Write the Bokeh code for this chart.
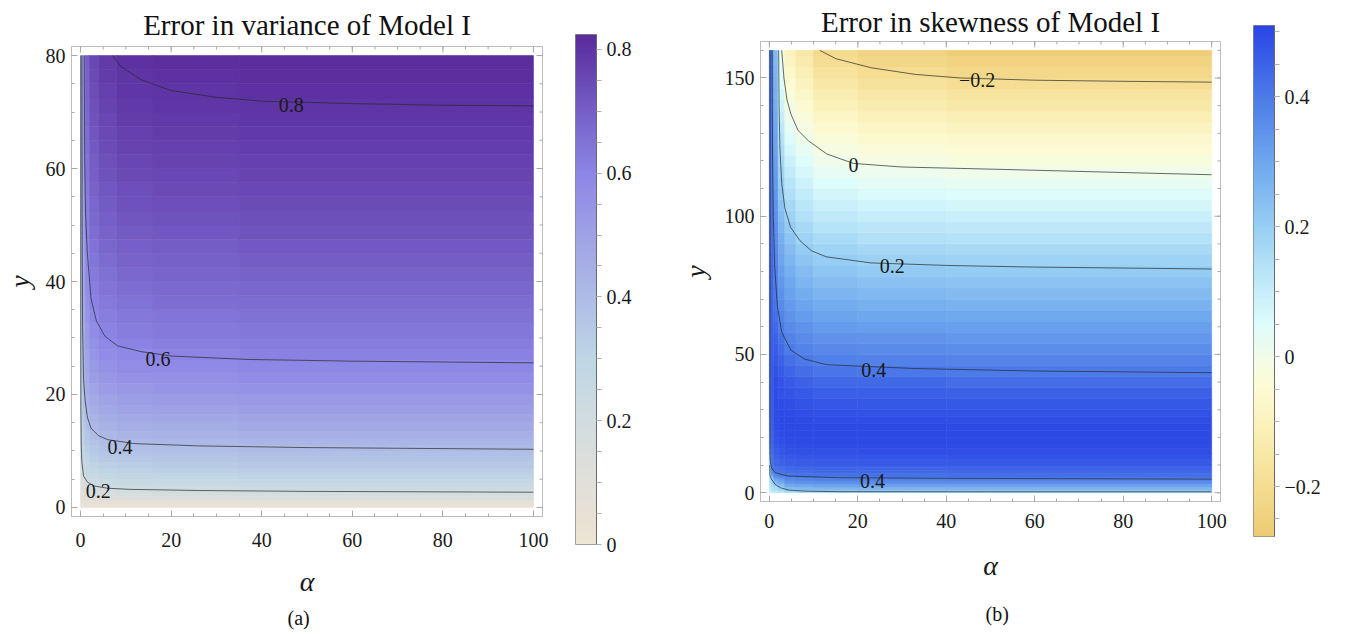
import numpy as np
from bokeh.plotting import figure
from bokeh.layouts import row
from bokeh.models import (ColumnDataSource, FixedTicker, LinearColorMapper, Range1d,
                          CustomJSTickFormatter, Title)
from bokeh.transform import linear_cmap
from bokeh.embed import file_html
from bokeh.resources import INLINE
from bokeh.core.properties import value

SERIF = "Liberation Serif, serif"

# ======================= panel (a): error in variance =======================
var_title = "Error in variance of Model I"
var_alpha_edges = [0, 0.4, 1, 2, 4, 8, 16, 35, 100]
var_y_edges = [0, 0.5, 1, 1.5, 2, 2.5, 3, 3.5, 4, 5, 6, 7, 8, 9, 10, 11, 12, 13.5, 15, 16.5,
               18, 20, 22, 24, 26, 28, 30, 32.5, 35, 37.5, 40, 42.5, 45, 47.5, 50, 52.5, 55,
               57.5, 60, 62.5, 65, 67.5, 70, 72.5, 75, 77.5, 80]
# rows bottom -> top; columns follow var_alpha_edges
var_z = [
    [0.014, 0.020, 0.023, 0.025, 0.028, 0.030, 0.031, 0.033],
    [0.031, 0.045, 0.052, 0.058, 0.064, 0.068, 0.071, 0.076],
    [0.045, 0.066, 0.077, 0.085, 0.094, 0.100, 0.104, 0.111],
    [0.059, 0.085, 0.099, 0.110, 0.122, 0.129, 0.133, 0.142],
    [0.071, 0.102, 0.119, 0.132, 0.147, 0.155, 0.161, 0.172],
    [0.082, 0.119, 0.138, 0.154, 0.171, 0.181, 0.187, 0.200],
    [0.093, 0.135, 0.157, 0.174, 0.193, 0.205, 0.212, 0.225],
    [0.104, 0.150, 0.174, 0.194, 0.216, 0.227, 0.235, 0.247],
    [0.119, 0.172, 0.200, 0.223, 0.244, 0.256, 0.263, 0.274],
    [0.138, 0.200, 0.232, 0.256, 0.276, 0.287, 0.294, 0.305],
    [0.157, 0.224, 0.258, 0.283, 0.303, 0.313, 0.320, 0.330],
    [0.174, 0.245, 0.281, 0.306, 0.325, 0.336, 0.342, 0.351],
    [0.192, 0.263, 0.300, 0.326, 0.345, 0.355, 0.361, 0.370],
    [0.206, 0.279, 0.318, 0.344, 0.363, 0.373, 0.379, 0.387],
    [0.217, 0.293, 0.333, 0.360, 0.379, 0.388, 0.394, 0.403],
    [0.226, 0.306, 0.348, 0.375, 0.393, 0.404, 0.412, 0.423],
    [0.237, 0.321, 0.364, 0.392, 0.413, 0.427, 0.435, 0.446],
    [0.249, 0.337, 0.382, 0.413, 0.437, 0.451, 0.460, 0.470],
    [0.260, 0.352, 0.397, 0.434, 0.458, 0.473, 0.482, 0.492],
    [0.270, 0.365, 0.414, 0.453, 0.478, 0.493, 0.502, 0.512],
    [0.280, 0.379, 0.432, 0.473, 0.498, 0.514, 0.524, 0.534],
    [0.291, 0.393, 0.452, 0.494, 0.520, 0.537, 0.546, 0.556],
    [0.301, 0.405, 0.469, 0.513, 0.539, 0.557, 0.566, 0.576],
    [0.310, 0.415, 0.484, 0.530, 0.557, 0.575, 0.585, 0.594],
    [0.318, 0.424, 0.499, 0.546, 0.574, 0.592, 0.602, 0.610],
    [0.326, 0.433, 0.512, 0.561, 0.589, 0.607, 0.616, 0.624],
    [0.334, 0.441, 0.527, 0.576, 0.605, 0.622, 0.631, 0.639],
    [0.342, 0.450, 0.541, 0.593, 0.620, 0.637, 0.646, 0.654],
    [0.350, 0.459, 0.555, 0.607, 0.634, 0.652, 0.660, 0.667],
    [0.357, 0.467, 0.567, 0.619, 0.647, 0.665, 0.673, 0.681],
    [0.364, 0.474, 0.579, 0.631, 0.659, 0.678, 0.686, 0.693],
    [0.370, 0.481, 0.590, 0.642, 0.670, 0.689, 0.697, 0.705],
    [0.376, 0.488, 0.601, 0.653, 0.681, 0.700, 0.708, 0.715],
    [0.382, 0.494, 0.611, 0.663, 0.692, 0.711, 0.719, 0.726],
    [0.387, 0.500, 0.620, 0.673, 0.701, 0.721, 0.728, 0.736],
    [0.392, 0.505, 0.628, 0.682, 0.711, 0.731, 0.738, 0.745],
    [0.397, 0.511, 0.637, 0.690, 0.719, 0.740, 0.747, 0.754],
    [0.401, 0.516, 0.645, 0.699, 0.728, 0.748, 0.755, 0.762],
    [0.406, 0.521, 0.652, 0.707, 0.736, 0.757, 0.764, 0.771],
    [0.410, 0.525, 0.660, 0.714, 0.744, 0.765, 0.771, 0.778],
    [0.414, 0.530, 0.667, 0.722, 0.751, 0.772, 0.779, 0.786],
    [0.418, 0.534, 0.674, 0.729, 0.759, 0.780, 0.786, 0.793],
    [0.422, 0.539, 0.680, 0.735, 0.765, 0.787, 0.793, 0.800],
    [0.426, 0.543, 0.687, 0.742, 0.772, 0.794, 0.800, 0.807],
    [0.429, 0.547, 0.693, 0.748, 0.779, 0.801, 0.807, 0.813],
    [0.433, 0.550, 0.699, 0.754, 0.785, 0.807, 0.813, 0.820],
]
var_contour_alpha = [
    [0.05, 0.05, 0.07, 0.15, 0.3, 0.66, 1.5, 3, 6, 11, 26, 50, 100],
    [0.3, 0.35, 0.45, 0.66, 1.0, 1.5, 2.3, 4, 6, 12, 26, 50, 100],
    [0.8, 0.9, 1.1, 1.5, 2.3, 3.5, 5.4, 8.2, 13.3, 20, 37, 60, 100],
    [7.1, 9, 13.4, 20, 30, 40.6, 60, 80, 100],
]
var_contour_y = [
    [80, 30, 18, 11, 8, 5.6, 4.5, 3.8, 3.4, 3.2, 3.0, 2.85, 2.7],
    [80, 50, 32, 22.7, 19, 16, 14, 12.7, 12, 11.3, 10.9, 10.6, 10.3],
    [80, 62, 52, 45, 37, 33, 30.3, 28.6, 27.6, 26.8, 26.2, 25.9, 25.6],
    [80, 78, 75.7, 73.8, 72.6, 71.9, 71.5, 71.2, 71.1],
]
var_label_alpha = [3.9, 8.7, 17.1, 46.5]
var_label_y = [3.0, 10.7, 26.2, 71.2]
var_label_text = ["0.2", "0.4", "0.6", "0.8"]
var_y_ticks = [0, 20, 40, 60, 80]
var_cbar_ticks = [0, 0.2, 0.4, 0.6, 0.8]
var_cbar_low, var_cbar_high = 0.0, 0.824
var_stop_vals = [0.0, 0.1, 0.2, 0.3, 0.4, 0.5, 0.6, 0.7, 0.8, 0.824]
var_stop_cols = ["#ede4d2", "#e1dfd9", "#d1dce0", "#bfd6e5", "#aebce6",
                 "#9fa2e5", "#8c86e6", "#7660c8", "#5f34a4", "#5a2c9c"]

# ======================= panel (b): error in skewness =======================
skew_title = "Error in skewness of Model I"
skew_alpha_edges = [0, 0.4, 1, 2, 3.5, 6, 10, 20, 40, 100]
skew_y_edges = [0, 0.5, 1, 1.5, 2, 2.5, 3, 3.5, 4, 5, 6, 7, 8, 9, 10, 12, 14, 16, 18, 20,
                22.5, 25, 27.5, 30, 34, 38, 42, 46, 50, 54, 58, 62, 66, 70, 74, 78, 82, 86,
                90, 94, 98, 102, 106, 110, 114, 118, 122, 126, 130, 134, 138, 142, 146, 150,
                154, 158, 160]
skew_z = [
    [0.10, 0.11, 0.12, 0.13, 0.16, 0.175, 0.185, 0.188, 0.19],
    [0.105, 0.12, 0.135, 0.155, 0.20, 0.212, 0.22, 0.223, 0.225],
    [0.11, 0.13, 0.15, 0.178, 0.232, 0.243, 0.25, 0.253, 0.255],
    [0.115, 0.14, 0.165, 0.198, 0.258, 0.268, 0.275, 0.278, 0.28],
    [0.12, 0.152, 0.182, 0.222, 0.28, 0.29, 0.295, 0.298, 0.30],
    [0.125, 0.164, 0.20, 0.245, 0.30, 0.31, 0.315, 0.318, 0.32],
    [0.13, 0.176, 0.225, 0.268, 0.32, 0.33, 0.335, 0.338, 0.34],
    [0.135, 0.188, 0.25, 0.29, 0.338, 0.347, 0.352, 0.357, 0.36],
    [0.142, 0.205, 0.29, 0.32, 0.362, 0.372, 0.378, 0.382, 0.385],
    [0.15, 0.25, 0.34, 0.36, 0.39, 0.397, 0.402, 0.407, 0.41],
    [0.16, 0.31, 0.38, 0.395, 0.41, 0.415, 0.42, 0.423, 0.425],
    [0.17, 0.37, 0.405, 0.412, 0.425, 0.43, 0.434, 0.436, 0.438],
    [0.19, 0.402, 0.418, 0.425, 0.438, 0.442, 0.446, 0.448, 0.45],
    [0.21, 0.41, 0.428, 0.436, 0.448, 0.452, 0.455, 0.457, 0.458],
    [0.24, 0.42, 0.44, 0.449, 0.46, 0.463, 0.466, 0.467, 0.468],
    [0.28, 0.43, 0.452, 0.463, 0.473, 0.476, 0.478, 0.479, 0.48],
    [0.32, 0.438, 0.462, 0.475, 0.483, 0.486, 0.488, 0.489, 0.49],
    [0.35, 0.445, 0.471, 0.484, 0.491, 0.494, 0.495, 0.496, 0.496],
    [0.37, 0.45, 0.478, 0.491, 0.496, 0.499, 0.499, 0.499, 0.499],
    [0.385, 0.455, 0.484, 0.496, 0.499, 0.5, 0.5, 0.5, 0.5],
    [0.398, 0.459, 0.489, 0.499, 0.5, 0.5, 0.498, 0.498, 0.497],
    [0.408, 0.462, 0.492, 0.5, 0.499, 0.497, 0.493, 0.492, 0.491],
    [0.415, 0.464, 0.494, 0.498, 0.496, 0.491, 0.486, 0.485, 0.483],
    [0.42, 0.466, 0.495, 0.495, 0.49, 0.482, 0.475, 0.473, 0.471],
    [0.425, 0.467, 0.493, 0.488, 0.479, 0.467, 0.458, 0.455, 0.452],
    [0.428, 0.467, 0.489, 0.478, 0.464, 0.449, 0.438, 0.434, 0.43],
    [0.43, 0.466, 0.483, 0.466, 0.446, 0.427, 0.413, 0.407, 0.40],
    [0.43, 0.464, 0.474, 0.452, 0.425, 0.403, 0.39, 0.384, 0.379],
    [0.43, 0.462, 0.464, 0.436, 0.40, 0.383, 0.369, 0.363, 0.357],
    [0.43, 0.459, 0.452, 0.418, 0.383, 0.363, 0.348, 0.342, 0.336],
    [0.43, 0.456, 0.439, 0.397, 0.365, 0.344, 0.328, 0.32, 0.315],
    [0.43, 0.453, 0.426, 0.382, 0.348, 0.324, 0.307, 0.299, 0.293],
    [0.43, 0.45, 0.413, 0.367, 0.33, 0.305, 0.286, 0.278, 0.272],
    [0.43, 0.447, 0.404, 0.352, 0.313, 0.285, 0.266, 0.257, 0.251],
    [0.43, 0.444, 0.396, 0.337, 0.296, 0.266, 0.245, 0.236, 0.229],
    [0.43, 0.441, 0.388, 0.322, 0.278, 0.246, 0.224, 0.214, 0.208],
    [0.43, 0.438, 0.38, 0.307, 0.261, 0.227, 0.204, 0.193, 0.186],
    [0.43, 0.435, 0.373, 0.293, 0.243, 0.207, 0.182, 0.17, 0.163],
    [0.43, 0.431, 0.366, 0.278, 0.226, 0.187, 0.16, 0.147, 0.14],
    [0.43, 0.428, 0.359, 0.263, 0.209, 0.167, 0.138, 0.124, 0.117],
    [0.43, 0.424, 0.352, 0.248, 0.19, 0.147, 0.116, 0.101, 0.094],
    [0.43, 0.421, 0.345, 0.233, 0.17, 0.127, 0.094, 0.079, 0.071],
    [0.43, 0.417, 0.338, 0.219, 0.149, 0.106, 0.072, 0.056, 0.049],
    [0.43, 0.413, 0.331, 0.204, 0.129, 0.086, 0.05, 0.033, 0.026],
    [0.43, 0.409, 0.324, 0.187, 0.109, 0.066, 0.028, 0.01, 0.003],
    [0.43, 0.406, 0.317, 0.17, 0.089, 0.046, 0.006, -0.013, -0.022],
    [0.43, 0.403, 0.31, 0.153, 0.068, 0.025, -0.017, -0.036, -0.046],
    [0.43, 0.401, 0.303, 0.136, 0.048, 0.005, -0.039, -0.06, -0.071],
    [0.43, 0.398, 0.296, 0.119, 0.028, -0.015, -0.061, -0.083, -0.095],
    [0.43, 0.395, 0.289, 0.102, 0.008, -0.036, -0.083, -0.106, -0.12],
    [0.43, 0.392, 0.282, 0.085, -0.012, -0.056, -0.106, -0.13, -0.145],
    [0.43, 0.389, 0.275, 0.068, -0.031, -0.077, -0.128, -0.153, -0.169],
    [0.43, 0.386, 0.268, 0.051, -0.05, -0.097, -0.15, -0.177, -0.194],
    [0.43, 0.383, 0.261, 0.034, -0.068, -0.117, -0.172, -0.2, -0.219],
    [0.43, 0.38, 0.254, 0.017, -0.087, -0.138, -0.194, -0.224, -0.243],
    [0.43, 0.378, 0.25, 0.004, -0.101, -0.153, -0.211, -0.241, -0.262],
]
skew_contour_alpha = [
    [11.4, 15, 23, 33, 43.2, 60, 80, 100],
    [2.8, 3.3, 4.0, 4.9, 6.5, 8.9, 13, 19, 30, 53.3, 75, 100],
    [2.1, 2.2, 2.4, 2.8, 3.5, 4.8, 6.9, 9.5, 12.9, 23, 40, 60, 100],
    [0.6, 0.7, 0.9, 1.2, 1.8, 2.8, 4.9, 8, 12.9, 33, 60, 100],
    [0.15, 0.15, 0.17, 0.25, 0.5, 1.3, 4.3, 15.5, 38, 100],
    [0.1, 0.12, 0.2, 0.5, 1.3, 2.5, 4.3, 8, 15.5, 50, 100],
]
skew_contour_y = [
    [160, 157, 153.7, 151.3, 150, 149.2, 148.8, 148.5],
    [160, 150, 142, 136.8, 131, 127.2, 122.5, 119.1, 117.8, 116.9, 116, 115],
    [160, 140, 124, 111.8, 103, 96, 91.2, 87.5, 85.3, 83.1, 82.2, 81.6, 80.9],
    [160, 125, 100, 82, 67.7, 58, 51.5, 48.3, 46.3, 44.9, 44, 43.4],
    [160, 30, 14, 11, 9, 7.2, 6.0, 5.4, 5.2, 4.9],
    [10, 7, 5.8, 4.8, 3.0, 1.8, 0.95, 0.55, 0.35, 0.3, 0.3],
]
skew_label_alpha = [47, 19, 27.8, 23.6, 23.3]
skew_label_y = [149.2, 118.4, 82, 44.4, 4.2]
skew_label_text = ["\u22120.2", "0", "0.2", "0.4", "0.4"]
skew_y_ticks = [0, 50, 100, 150]
skew_cbar_ticks = [-0.2, 0, 0.2, 0.4]
skew_cbar_low, skew_cbar_high = -0.277, 0.51
skew_stop_vals = [-0.277, -0.2, -0.1, -0.05, 0.0, 0.05, 0.1, 0.2, 0.3, 0.4, 0.51]
skew_stop_cols = ["#eecb74", "#f5dd92", "#fbf3be", "#fdfbd4", "#f1fce9", "#ddfcfc",
                  "#c6eefa", "#98cff4", "#6ea7ee", "#4d7ce8", "#2a45e6"]

alpha_ticks = [0, 20, 40, 60, 80, 100]


def hex2rgb(h):
    return tuple(int(h[i:i + 2], 16) for i in (1, 3, 5))


def make_palette(stop_vals, stop_cols, lo, hi, n=256):
    v = np.linspace(lo, hi, n)
    rgb = np.array([hex2rgb(c) for c in stop_cols], dtype=float)
    ch = [np.interp(v, stop_vals, rgb[:, k]) for k in range(3)]
    return ["#%02x%02x%02x" % (int(round(ch[0][i])), int(round(ch[1][i])), int(round(ch[2][i])))
            for i in range(n)]


def cells(a_edges, y_edges, z):
    L, R, B, T, Z = [], [], [], [], []
    for i in range(len(y_edges) - 1):
        for j in range(len(a_edges) - 1):
            L.append(a_edges[j]); R.append(a_edges[j + 1])
            B.append(y_edges[i]); T.append(y_edges[i + 1])
            Z.append(z[i][j])
    return ColumnDataSource(dict(left=L, right=R, bottom=B, top=T, z=Z))


def build_main(bl, bt, fw, fh, ymax, yticks, yminor_step, tick_standoff, xlab_standoff,
               ylab_standoff, title, title_standoff, caption, cap_offset, cap_standoff,
               a_edges, y_edges, z, palette, lo, hi, ca, cy, la, ly, lt):
    pad_a = 0.02 * 100
    pad_y = 0.02 * ymax
    xr = (-pad_a, 100 + pad_a)
    yr = (-pad_y, ymax + pad_y)
    p = figure(x_range=Range1d(*xr), y_range=Range1d(*yr),
               frame_width=fw, frame_height=fh,
               min_border_left=bl, min_border_top=bt, min_border_right=16,
               min_border_bottom=60, frame_align=False, align="start",
               toolbar_location=None, output_backend="svg", title=title)
    p.grid.visible = False
    p.outline_line_color = "#bcbcbc"
    p.title.text_font = SERIF
    p.title.text_font_size = "29px"
    p.title.text_font_style = "normal"
    p.title.text_color = "#111111"
    p.title.align = "center"
    p.title.standoff = title_standoff

    src = cells(a_edges, y_edges, z)
    cmap = linear_cmap("z", palette, lo, hi)
    p.quad(left="left", right="right", bottom="bottom", top="top", source=src,
           fill_color=cmap, line_color=cmap, line_width=0.6)
    p.multi_line(xs=ca, ys=cy, line_color="#2a2a2a", line_alpha=0.7, line_width=1)
    p.text(x=la, y=ly, text=lt, text_font=value(SERIF), text_font_size="20px",
           text_align="center", text_baseline="middle", text_color="#1a1a1a")

    xminor = list(range(0, 101, 5))
    yminor = list(range(0, ymax + 1, yminor_step))
    p.xaxis.ticker = FixedTicker(ticks=alpha_ticks, minor_ticks=xminor)
    p.yaxis.ticker = FixedTicker(ticks=yticks, minor_ticks=yminor)
    p.xaxis.axis_label = "\u03b1"
    p.yaxis.axis_label = "y"
    for ax in (p.xaxis[0], p.yaxis[0]):
        ax.axis_line_color = "#bcbcbc"
        ax.major_tick_line_color = "#a8a8a8"
        ax.minor_tick_line_color = "#a8a8a8"
        ax.major_tick_in = 6
        ax.major_tick_out = 0
        ax.minor_tick_in = 3
        ax.minor_tick_out = 0
        ax.major_label_text_font = SERIF
        ax.major_label_text_font_size = "20px"
        ax.major_label_text_color = "#1a1a1a"
        ax.axis_label_text_font = SERIF
        ax.axis_label_text_font_size = "28px"
        ax.axis_label_text_font_style = "italic"
        ax.axis_label_text_color = "#1a1a1a"
    p.xaxis.major_label_standoff = tick_standoff
    p.yaxis.major_label_standoff = 6
    p.xaxis.axis_label_standoff = xlab_standoff
    p.yaxis.axis_label_standoff = ylab_standoff

    # mirrored frame ticks on the top and right edges
    tick_col = "#a8a8a8"
    p.dash(x=alpha_ticks, y=[yr[1]] * len(alpha_ticks), size=12, angle=np.pi / 2,
           line_color=tick_col)
    p.dash(x=xminor, y=[yr[1]] * len(xminor), size=6, angle=np.pi / 2, line_color=tick_col)
    p.dash(x=[xr[1]] * len(yticks), y=yticks, size=12, line_color=tick_col)
    p.dash(x=[xr[1]] * len(yminor), y=yminor, size=6, line_color=tick_col)

    cap = Title(text=caption, align="left", offset=cap_offset, standoff=cap_standoff,
                text_font=SERIF, text_font_size="20px", text_font_style="normal",
                text_color="#111111")
    p.add_layout(cap, "below")
    return p


def build_cbar(lo, hi, palette, ticks, bl, bt, br, fh):
    c = figure(x_range=Range1d(0, 1), y_range=Range1d(lo, hi),
               frame_width=21, frame_height=fh,
               min_border_left=bl, min_border_top=bt, min_border_right=br,
               min_border_bottom=40, frame_align=False, align="start",
               toolbar_location=None, output_backend="svg",
               x_axis_location=None, y_axis_location="right")
    c.title = None
    c.grid.visible = False
    c.outline_line_color = "#8a8a8a"
    mapper = LinearColorMapper(palette=palette, low=lo, high=hi)
    c.image(image=[np.linspace(lo, hi, 256).reshape(256, 1)], x=0, y=lo, dw=1, dh=hi - lo,
            color_mapper=mapper)
    minor = [round(v, 3) for v in np.arange(-0.25, 0.851, 0.05) if lo <= v <= hi]
    ax = c.yaxis[0]
    ax.ticker = FixedTicker(ticks=ticks, minor_ticks=minor)
    ax.formatter = CustomJSTickFormatter(code="""
        if (Math.abs(tick) < 1e-9) { return '0'; }
        const s = Math.abs(tick).toFixed(1);
        return (tick < 0 ? '\u2212' : '') + s;
    """)
    ax.axis_line_color = "#6a6a6a"
    ax.major_tick_line_color = "#b0b0b0"
    ax.minor_tick_line_color = "#b0b0b0"
    ax.major_tick_in = 0
    ax.major_tick_out = 5
    ax.minor_tick_in = 0
    ax.minor_tick_out = 5
    ax.major_label_standoff = 5
    ax.major_label_text_font = SERIF
    ax.major_label_text_font_size = "20px"
    ax.major_label_text_color = "#1a1a1a"
    return c


var_pal = make_palette(var_stop_vals, var_stop_cols, var_cbar_low, var_cbar_high)
skew_pal = make_palette(skew_stop_vals, skew_stop_cols, skew_cbar_low, skew_cbar_high)

pa = build_main(65, 45, 471, 470, 80, var_y_ticks, 5, 16, 16, 8,
                var_title, 12, "(a)", 216, 10,
                var_alpha_edges, var_y_edges, var_z, var_pal, var_cbar_low, var_cbar_high,
                var_contour_alpha, var_contour_y, var_label_alpha, var_label_y, var_label_text)
ca = build_cbar(var_cbar_low, var_cbar_high, var_pal, var_cbar_ticks, 17, 34, 42, 510)

pb = build_main(122, 40, 460, 460, 160, skew_y_ticks, 10, 12, 19, 11,
                skew_title, 7, "(b)", 225, 34,
                skew_alpha_edges, skew_y_edges, skew_z, skew_pal, skew_cbar_low, skew_cbar_high,
                skew_contour_alpha, skew_contour_y, skew_label_alpha, skew_label_y,
                skew_label_text)
cb = build_cbar(skew_cbar_low, skew_cbar_high, skew_pal, skew_cbar_ticks, 17, 25, 48, 511)

layout = row(pa, ca, pb, cb)
open("out.html", "w").write(file_html(layout, INLINE))
